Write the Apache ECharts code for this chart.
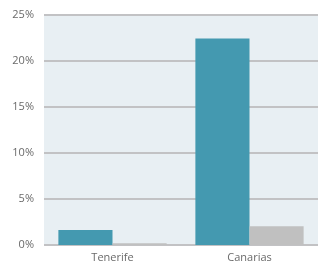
<!DOCTYPE html>
<html>
<head>
<meta charset="utf-8">
<script src="https://cdn.jsdelivr.net/npm/echarts@6/dist/echarts.min.js"></script>
<style>html,body{margin:0;padding:0;background:#fff}#c{width:318px;height:266px}</style>
</head>
<body>
<div id="c"></div>
<script>
var categories = ['Tenerife', 'Canarias'];
var seriesA = [1.63, 22.45];
var seriesB = [0.2, 2.03];
var yTicks = [0, 5, 10, 15, 20, 25];

var chart = echarts.init(document.getElementById('c'), null, {renderer: 'canvas'});
chart.setOption({
  animation: false,
  grid: {left: 44, right: 0, top: 15, bottom: 21, show: true, backgroundColor: '#e8eff3', borderWidth: 0},
  xAxis: {
    type: 'category', data: categories,
    axisLine: {show: false}, axisTick: {show: false},
    axisLabel: {color: '#6a6a6a', fontSize: 11, fontFamily: 'Open Sans', margin: 7}
  },
  yAxis: {
    type: 'value', min: yTicks[0], max: yTicks[yTicks.length - 1], interval: 5,
    axisLine: {show: false}, axisTick: {show: false},
    axisLabel: {color: '#6a6a6a', fontSize: 11, fontFamily: 'Open Sans', margin: 10, formatter: '{value}%'},
    splitLine: {lineStyle: {color: '#c2c2c4', width: 2}}
  },
  series: [
    {type: 'bar', data: seriesA, itemStyle: {color: '#4499b0'}, barGap: '0%', barCategoryGap: '21%'},
    {type: 'bar', data: seriesB, itemStyle: {color: '#c0c0c0'}, barGap: '0%', barCategoryGap: '21%'}
  ]
});
</script>
</body>
</html>
